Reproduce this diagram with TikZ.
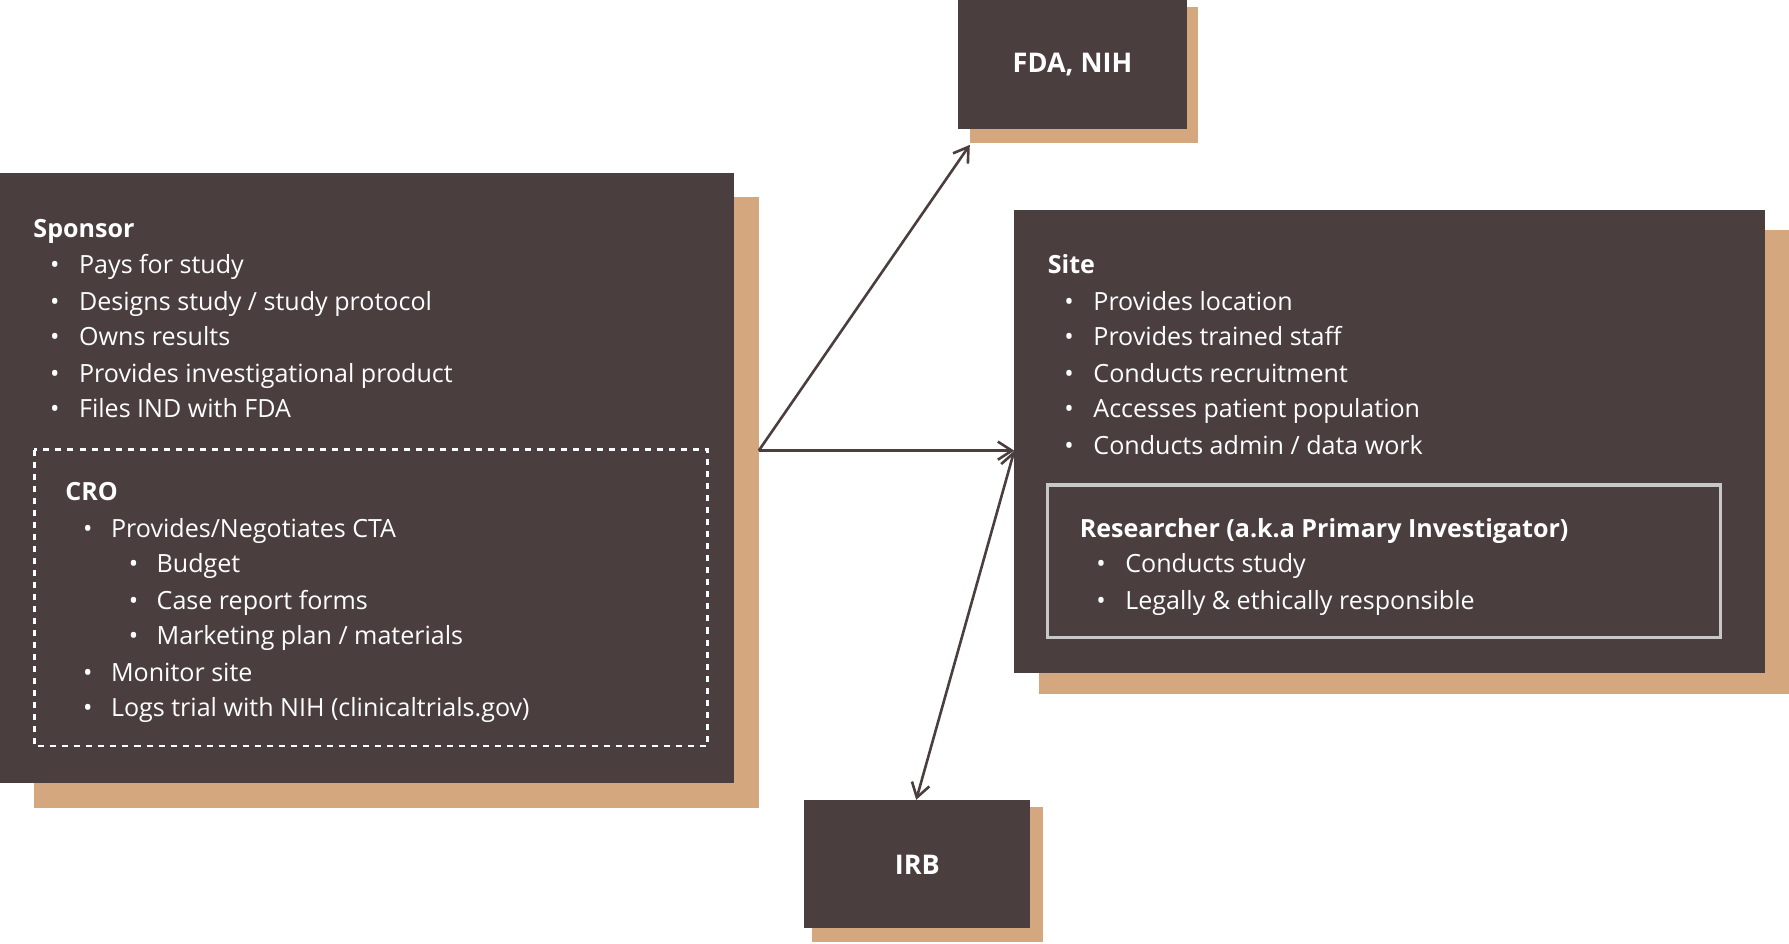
\documentclass[tikz,border=0pt]{standalone}
\usepackage{fontspec}
\setmainfont{Open Sans}
\usetikzlibrary{arrows.meta}
\definecolor{dk}{HTML}{4A3F3E}
\definecolor{tan}{HTML}{D4A77E}
\definecolor{lg}{HTML}{C8C8C8}
\begin{document}
\begin{tikzpicture}[x=0.02cm,y=-0.02cm,
  txt/.style={anchor=base west,text=white,inner sep=0,font=\fontsize{12.5}{14}\selectfont},
  hd/.style={txt,font=\fontsize{12.5}{14}\selectfont\bfseries},
  bul/.style={anchor=base,text=white,inner sep=0,font=\fontsize{12.5}{14}\selectfont},
  lbl/.style={text=white,font=\fontsize{13.5}{15}\selectfont\bfseries},
  arr/.style={draw=dk,line width=1.3pt,->,>={Straight Barb[length=7pt,width=9pt]}}]
\useasboundingbox (0,0) rectangle (1568,827);
% shadows
\fill[tan] (30,173) rectangle (665,708);
\fill[tan] (850,6) rectangle (1050,125);
\fill[tan] (911,202) rectangle (1568,608);
\fill[tan] (712,707) rectangle (914,826);
% boxes
\fill[dk] (0,152) rectangle (643,686);
\fill[dk] (840,0) rectangle (1040,113);
\fill[dk] (889,184) rectangle (1547,590);
\fill[dk] (705,701) rectangle (903,813);
\node[lbl] (fda) at (940,57) {FDA, NIH};
\node[lbl] (irb) at (804,758) {IRB};
\draw[white,line width=1.3pt,dash pattern=on 3pt off 3pt] (30,394) rectangle (620,654);
\draw[lg,line width=1.6pt] (918,425) rectangle (1508,559);
% sponsor text
\newcommand\myln[4]{\node[bul] at (#1,#3) {•}; \node[txt] at (#2,#3) {#4};}
\node[hd] at (29,208) {Sponsor};
\myln{48}{69}{240}{Pays for study}
\myln{48}{69}{272}{Designs study / study protocol}
\myln{48}{69}{303}{Owns results}
\myln{48}{69}{335}{Provides investigational product}
\myln{48}{69}{366}{Files IND with FDA}
\node[hd] at (57,439) {CRO};
\myln{77}{97}{471}{Provides/Negotiates CTA}
\myln{117}{137}{502}{Budget}
\myln{117}{137}{534}{Case report forms}
\myln{117}{137}{565}{Marketing plan / materials}
\myln{77}{97}{597}{Monitor site}
\myln{77}{97}{628}{Logs trial with NIH (clinicaltrials.gov)}
% site text
\node[hd] at (918,240) {Site};
\myln{937}{958}{272}{Provides location}
\myln{937}{958}{303}{Provides trained staff}
\myln{937}{958}{335}{Conducts recruitment}
\myln{937}{958}{366}{Accesses patient population}
\myln{937}{958}{398}{Conducts admin / data work}
\node[hd] at (946,471) {Researcher (a.k.a Primary Investigator)};
\myln{965}{986}{502}{Conducts study}
\myln{965}{986}{534}{Legally \& ethically responsible}
% arrows
\coordinate (o) at (665,395);
\coordinate (fdat) at (850,127);
\coordinate (sitel) at (889,395);
\coordinate (irbt) at (803,701);
\draw[arr] (o) -- (fdat);
\draw[arr] (o) -- (sitel);
\draw[arr,<->] (sitel) -- (irbt);
\end{tikzpicture}
\end{document}
